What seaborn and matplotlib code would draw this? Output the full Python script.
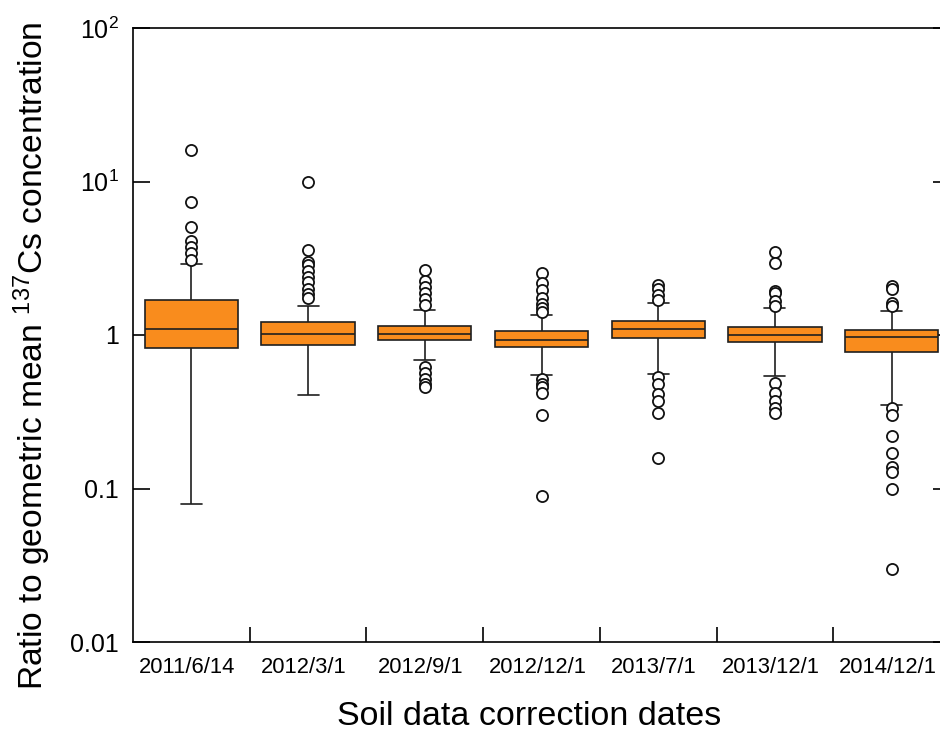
import numpy as np
import pandas as pd
import seaborn as sns
import matplotlib
matplotlib.use("Agg")
import matplotlib.pyplot as plt
from matplotlib.ticker import FixedLocator, NullLocator
from matplotlib.transforms import ScaledTranslation

# ---- data ----
dates = ["2011/6/14", "2012/3/1", "2012/9/1", "2012/12/1",
         "2013/7/1", "2013/12/1", "2014/12/1"]
whisker_low = [0.079, 0.408, 0.69, 0.549, 0.557, 0.541, 0.35]
q1 = [0.826, 0.865, 0.932, 0.835, 0.956, 0.90, 0.775]
median = [1.094, 1.01, 1.015, 0.923, 1.10, 0.995, 0.966]
q3 = [1.70, 1.21, 1.15, 1.06, 1.23, 1.13, 1.07]
whisker_high = [2.91, 1.55, 1.45, 1.36, 1.62, 1.50, 1.44]

outliers_2011_6_14 = [16.1, 7.4, 5.05, 4.1, 3.75, 3.4, 3.08]
outliers_2012_3_1 = [9.9, 3.6, 3.0, 2.85, 2.6, 2.4, 2.2, 2.0, 1.85, 1.75]
outliers_2012_9_1 = [2.65, 2.26, 2.06, 1.89, 1.72, 1.56,
                     0.622, 0.563, 0.514, 0.48, 0.456]
outliers_2012_12_1 = [2.55, 2.17, 1.95, 1.75, 1.6, 1.5, 1.42,
                      0.52, 0.48, 0.455, 0.42, 0.30, 0.089]
outliers_2013_7_1 = [2.12, 1.99, 1.82, 1.69,
                     0.53, 0.48, 0.413, 0.37, 0.309, 0.159]
outliers_2013_12_1 = [3.49, 2.93, 1.94, 1.87, 1.67, 1.55,
                      0.489, 0.417, 0.37, 0.333, 0.309]
outliers_2014_12_1 = [2.08, 1.99, 1.61, 1.55,
                      0.336, 0.301, 0.219, 0.170, 0.139, 0.129, 0.100, 0.0298]
outliers = [outliers_2011_6_14, outliers_2012_3_1, outliers_2012_9_1,
            outliers_2012_12_1, outliers_2013_7_1, outliers_2013_12_1,
            outliers_2014_12_1]

ytick_values = [0.01, 0.1, 1, 10, 100]
ytick_labels = ["0.01", "0.1", "1", "$10^1$", "$10^2$"]

# ---- tables built from the arrays ----
box_df = pd.DataFrame({
    "date": np.repeat(dates, 5),
    "ratio": np.column_stack([whisker_low, q1, median, q3, whisker_high]).ravel(),
})
out_df = pd.DataFrame({
    "date": [d for d, o in zip(dates, outliers) for _ in o],
    "ratio": [v for o in outliers for v in o],
})

# ---- style ----
sns.set_theme(style="ticks")
plt.rcParams["font.family"] = ["Liberation Sans", "DejaVu Sans"]
plt.rcParams["mathtext.default"] = "regular"
plt.rcParams["axes.linewidth"] = 1.2

fig = plt.figure(figsize=(9.4, 7.36), dpi=100)
ax = fig.add_axes([133 / 940, 94 / 736, (950 - 133) / 940, (642 - 28) / 736])
ax.set_yscale("log")

sns.boxplot(data=box_df, x="date", y="ratio", order=dates, whis=(0, 100),
            showfliers=False, color="#F98C1D", saturation=1, width=0.8,
            linecolor="#1f1f1f", linewidth=1.2, capwidths=0.18, ax=ax)
sns.stripplot(data=out_df, x="date", y="ratio", order=dates, jitter=False,
              size=8, color="white", edgecolor="#111111", linewidth=1.3,
              zorder=4, ax=ax)

ax.set_xlim(-0.5, 6.5)
ax.set_ylim(0.01, 100)

ax.yaxis.set_major_locator(FixedLocator(ytick_values))
ax.set_yticklabels(ytick_labels)
ax.yaxis.set_minor_locator(NullLocator())
ax.tick_params(axis="y", which="major", direction="in", length=12, width=1.2,
               left=True, right=True, labelsize=18, pad=10, colors="black")

ax.xaxis.set_major_locator(FixedLocator(np.arange(len(dates))))
ax.set_xticklabels(dates)
ax.xaxis.set_minor_locator(FixedLocator(np.arange(0.5, 6.0, 1.0)))
ax.tick_params(axis="x", which="major", length=0, labelsize=15.8, pad=11,
               colors="black")
ax.tick_params(axis="x", which="minor", direction="in", length=11, width=1.2,
               bottom=True, top=False, color="black")
shift = ScaledTranslation(-4 / 100, 0, fig.dpi_scale_trans)
for lbl in ax.get_xticklabels():
    lbl.set_transform(lbl.get_transform() + shift)

for s in ax.spines.values():
    s.set_color("black")
    s.set_linewidth(1.2)

ax.set_xlabel("Soil data correction dates", fontsize=24.5, color="black")
ax.xaxis.set_label_coords((529 - 133) / 817, (642 - 701) / 614)
ax.set_ylabel("Ratio to geometric mean $^{137}$Cs concentration", fontsize=24.2,
              color="black")
ax.yaxis.set_label_coords((53 - 133) / 817, (642 - 356) / 614)

fig.savefig("out.png", dpi=100)
